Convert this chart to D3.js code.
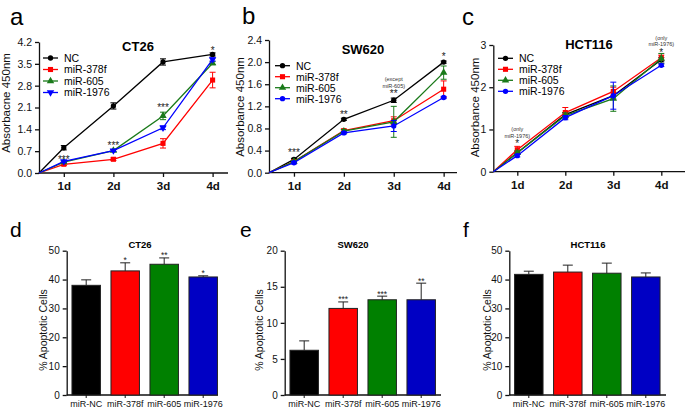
<!DOCTYPE html>
<html>
<head>
<meta charset="utf-8">
<script src="https://d3js.org/d3.v7.min.js"></script>
<style>
  body { margin: 0; background: #fff; }
  svg { font-family: "Liberation Sans", Arial, sans-serif; }
</style>
</head>
<body>
<script>
// groups, days, colours
var groups = ["NC", "miR-378f", "miR-605", "miR-1976"];
var barLabels = ["miR-NC", "miR-378f", "miR-605", "miR-1976"];
var days = [1, 2, 3, 4];
var dayLabels = ["1d", "2d", "3d", "4d"];
var lineColors = ["#000000", "#ff0000", "#1a7a1a", "#0000ff"];
var barColors = ["#000000", "#ff0000", "#008000", "#0000c4"];

// a - CT26 absorbance
var ct26NC = [0.81, 2.15, 3.56, 3.80], ct26NCsd = [0.07, 0.10, 0.10, 0.05];
var ct26R378 = [0.28, 0.44, 0.95, 2.98], ct26R378sd = [0.04, 0.04, 0.15, 0.25];
var ct26R605 = [0.35, 0.72, 1.83, 3.52], ct26R605sd = [0.03, 0.03, 0.12, 0.05];
var ct26R1976 = [0.37, 0.72, 1.45, 3.64], ct26R1976sd = [0.03, 0.03, 0.06, 0.05];
var ct26Stars = ["***", "***", "***", "*"];
var ct26StarAt = [0.51, 0.96, 2.15, 4.0];

// b - SW620 absorbance
var swNC = [0.24, 0.965, 1.31, 2.0], swNCsd = [0.02, 0.02, 0.04, 0.02];
var swR378 = [0.20, 0.76, 0.94, 1.51], swR378sd = [0.02, 0.03, 0.07, 0.15];
var swR605 = [0.20, 0.75, 0.92, 1.81], swR605sd = [0.02, 0.03, 0.28, 0.12];
var swR1976 = [0.18, 0.72, 0.845, 1.36], swR1976sd = [0.02, 0.02, 0.10, 0.02];
var swStars = ["***", "**", "**", "*"];
var swStarAt = [0.40, 1.08, 1.46, 2.13];
var swNotes = ["", "", "(except|miR-605)", ""];

// c - HCT116 absorbance
var hctNC = [0.45, 1.35, 1.80, 2.65], hctNCsd = [0.04, 0.05, 0.08, 0.05];
var hctR378 = [0.52, 1.40, 1.90, 2.70], hctR378sd = [0.08, 0.12, 0.10, 0.06];
var hctR605 = [0.45, 1.33, 1.73, 2.68], hctR605sd = [0.04, 0.06, 0.30, 0.12];
var hctR1976 = [0.38, 1.28, 1.80, 2.52], hctR1976sd = [0.03, 0.05, 0.32, 0.03];
var hctStars = ["*", "", "", "*"];
var hctStarAt = [0.71, 0, 0, 2.88];
var hctNotes = ["(only|miR-1976)", "", "", "(only|miR-1976)"];

// d-f apoptosis
var aptCT26 = [38.0, 43.0, 45.3, 40.9], aptCT26sd = [1.9, 2.8, 2.2, 0.4];
var aptCT26Stars = ["", "*", "**", "*"];
var aptSW = [6.2, 12.0, 13.2, 13.2], aptSWsd = [1.3, 0.9, 0.5, 2.3];
var aptSWStars = ["", "***", "***", "**"];
var aptHCT = [41.8, 42.6, 42.2, 40.9], aptHCTsd = [1.1, 2.4, 3.5, 1.4];
var aptHCTStars = ["", "", "", ""];

var svg = d3.select("body").append("svg")
    .attr("width", 685)
    .attr("height", 408);

function symFor(i, down) {
  if (i == 0) return { type: d3.symbolCircle, size: 22, rot: 0 };
  if (i == 1) return { type: d3.symbolSquare, size: 26, rot: 0 };
  if (i == 2) return { type: d3.symbolTriangle, size: 24, rot: 0 };
  return down ? { type: d3.symbolTriangle, size: 24, rot: 180 } : { type: d3.symbolCircle, size: 22, rot: 0 };
}

function linePanel(p) {
  var g = svg.append("g");
  var x = d3.scaleLinear().domain([0.5, 4.5]).range([p.left, p.left + 4 * p.step]);
  var y = d3.scaleLinear().domain([0, p.ymax]).range([p.bottom, p.top]);

  var ya = g.append("g")
      .attr("transform", "translate(" + p.left + ",0)")
      .call(d3.axisLeft(y).tickValues(p.yticks).tickFormat(p.fmt).tickSize(4).tickSizeOuter(0));
  ya.selectAll("text").style("font-size", "10.5px").attr("fill", "#111");

  var xa = g.append("g")
      .attr("transform", "translate(0," + p.bottom + ")")
      .call(d3.axisBottom(x).tickValues(days).tickFormat(function(d, i) { return dayLabels[i]; }).tickSize(4).tickSizeOuter(0));
  xa.select(".domain").attr("d", "M" + p.left + ",0H" + p.axisEnd);
  xa.selectAll("text").style("font-size", "11.5px").style("font-weight", "bold").attr("dy", "0.9em").attr("fill", "#111");
  g.selectAll(".domain, .tick line").attr("stroke", "#111").attr("stroke-width", 1.3);

  p.series.forEach(function(s, i) {
    var pts = [[0.5, 0]].concat(days.map(function(d, j) { return [d, s.v[j]]; }));
    g.append("path")
        .attr("fill", "none")
        .attr("stroke", lineColors[i])
        .attr("stroke-width", 1.3)
        .attr("d", d3.line().x(function(d) { return x(d[0]); }).y(function(d) { return y(d[1]); })(pts));
    days.forEach(function(d, j) {
      var cx = x(d), lo = y(s.v[j] - s.sd[j]), hi = y(s.v[j] + s.sd[j]);
      g.append("path")
          .attr("fill", "none")
          .attr("stroke", lineColors[i])
          .attr("stroke-width", 1)
          .attr("d", "M" + cx + "," + lo + "V" + hi + "M" + (cx - 3) + "," + lo + "h6M" + (cx - 3) + "," + hi + "h6");
    });
    var sy = symFor(i, p.down);
    g.selectAll(null).data(days).enter().append("path")
        .attr("fill", lineColors[i])
        .attr("d", d3.symbol().type(sy.type).size(sy.size))
        .attr("transform", function(d, j) { return "translate(" + x(d) + "," + y(s.v[j]) + ") rotate(" + sy.rot + ")"; });
  });

  // significance marks
  days.forEach(function(d, j) {
    if (p.stars[j]) {
      g.append("text")
          .attr("x", x(d)).attr("y", y(p.starAt[j]) + 5.5)
          .attr("text-anchor", "middle")
          .style("font-size", "10px")
          .attr("fill", "#222")
          .text(p.stars[j]);
    }
    if (p.notes && p.notes[j]) {
      var lines = p.notes[j].split("|");
      lines.forEach(function(t, k) {
        g.append("text")
            .attr("x", x(d)).attr("y", y(p.starAt[j]) - 4 - (lines.length - 1 - k) * 6.5)
            .attr("text-anchor", "middle")
            .style("font-size", "5.5px")
            .attr("fill", "#333")
            .text(t);
      });
    }
  });

  // legend
  groups.forEach(function(name, i) {
    var ly = p.legY + i * p.legStep;
    g.append("line")
        .attr("x1", p.legX).attr("x2", p.legX + 15)
        .attr("y1", ly).attr("y2", ly)
        .attr("stroke", lineColors[i]).attr("stroke-width", 1.3);
    var sy = symFor(i, p.down);
    g.append("path")
        .attr("fill", lineColors[i])
        .attr("d", d3.symbol().type(sy.type).size(sy.size))
        .attr("transform", "translate(" + (p.legX + 7.5) + "," + ly + ") rotate(" + sy.rot + ")");
    g.append("text")
        .attr("x", p.legX + 21).attr("y", ly + 3.8)
        .style("font-size", "10.5px")
        .text(name);
  });

  g.append("text")
      .attr("x", p.titleX).attr("y", p.titleY)
      .attr("text-anchor", "middle")
      .style("font-size", "13px").style("font-weight", "bold")
      .text(p.title);

  g.append("text")
      .attr("transform", "translate(" + p.labX + "," + p.labY + ") rotate(-90)")
      .attr("text-anchor", "middle")
      .style("font-size", "11.5px")
      .attr("fill", "#111")
      .text(p.ylabel);

  g.append("text")
      .attr("x", p.letterX).attr("y", p.letterY)
      .style("font-size", "24px")
      .text(p.letter);
}

function barPanel(p) {
  var g = svg.append("g");
  var x = d3.scaleBand().domain(barLabels).range([p.left, p.left + 156]).paddingInner(0.27).paddingOuter(0.135);
  var y = d3.scaleLinear().domain([0, p.ymax]).range([395, 250.7]);

  var ya = g.append("g")
      .attr("transform", "translate(" + p.left + ",0)")
      .call(d3.axisLeft(y).tickValues(p.yticks).tickSize(4).tickSizeOuter(0));
  ya.selectAll("text").style("font-size", "10px").attr("fill", "#111");
  ya.selectAll(".domain, .tick line").attr("stroke", "#111").attr("stroke-width", 1.3);

  g.append("line")
      .attr("x1", p.left).attr("x2", p.axisEnd)
      .attr("y1", 395).attr("y2", 395)
      .attr("stroke", "#111").attr("stroke-width", 1.3);

  barLabels.forEach(function(lab, i) {
    var bx = x(lab), bw = x.bandwidth(), cx = bx + bw / 2;
    var top = y(p.v[i]), et = y(p.v[i] + p.sd[i]);
    g.append("path")
        .attr("fill", "none").attr("stroke", "#222").attr("stroke-width", 1)
        .attr("d", "M" + cx + "," + top + "V" + et + "M" + (cx - 5) + "," + et + "h10");
    g.append("rect")
        .attr("x", bx).attr("y", top)
        .attr("width", bw).attr("height", 395 - top)
        .attr("fill", barColors[i])
        .attr("stroke", "#222").attr("stroke-width", 1);
    g.append("line")
        .attr("x1", cx).attr("x2", cx)
        .attr("y1", 395).attr("y2", 398)
        .attr("stroke", "#111").attr("stroke-width", 1);
    if (p.stars[i]) {
      g.append("text")
          .attr("x", cx).attr("y", et + 0.5)
          .attr("text-anchor", "middle")
          .style("font-size", "8.5px")
          .attr("fill", "#222")
          .text(p.stars[i]);
    }
    g.append("text")
        .attr("x", cx).attr("y", 407)
        .attr("text-anchor", "middle")
        .style("font-size", "9px")
        .attr("fill", "#111")
        .text(lab);
  });

  g.append("text")
      .attr("x", p.titleX).attr("y", 248)
      .attr("text-anchor", "middle")
      .style("font-size", "9.5px").style("font-weight", "bold")
      .text(p.title);

  g.append("text")
      .attr("transform", "translate(" + p.labX + ",330) rotate(-90)")
      .attr("text-anchor", "middle")
      .style("font-size", "10.5px")
      .attr("fill", "#111")
      .text("% Apoptotic Cells");

  g.append("text")
      .attr("x", p.letterX).attr("y", 237)
      .style("font-size", "21px")
      .text(p.letter);
}

linePanel({
  left: 39, top: 42, bottom: 173, step: 49.6, axisEnd: 228, ymax: 4.2,
  yticks: [0, 0.7, 1.4, 2.1, 2.8, 3.5, 4.2], fmt: d3.format(".1f"), down: true,
  series: [{ v: ct26NC, sd: ct26NCsd }, { v: ct26R378, sd: ct26R378sd }, { v: ct26R605, sd: ct26R605sd }, { v: ct26R1976, sd: ct26R1976sd }],
  stars: ct26Stars, starAt: ct26StarAt,
  legX: 43, legY: 58, legStep: 11.5,
  title: "CT26", titleX: 138, titleY: 51,
  ylabel: "Absorbacne 450nm", labX: 10, labY: 103,
  letter: "a", letterX: 10, letterY: 25
});

linePanel({
  left: 269, top: 40, bottom: 172.7, step: 49.9, axisEnd: 457, ymax: 2.4,
  yticks: [0, 0.4, 0.8, 1.2, 1.6, 2.0, 2.4], fmt: d3.format(".1f"), down: false,
  series: [{ v: swNC, sd: swNCsd }, { v: swR378, sd: swR378sd }, { v: swR605, sd: swR605sd }, { v: swR1976, sd: swR1976sd }],
  stars: swStars, starAt: swStarAt, notes: swNotes,
  legX: 275, legY: 65.7, legStep: 11,
  title: "SW620", titleX: 363, titleY: 54,
  ylabel: "Absorbance 450nm", labX: 243.5, labY: 107,
  letter: "b", letterX: 242, letterY: 23.5
});

linePanel({
  left: 493.3, top: 45, bottom: 171.7, step: 48, axisEnd: 685, ymax: 3,
  yticks: [0, 1, 2, 3], fmt: d3.format("d"), down: false,
  series: [{ v: hctNC, sd: hctNCsd }, { v: hctR378, sd: hctR378sd }, { v: hctR605, sd: hctR605sd }, { v: hctR1976, sd: hctR1976sd }],
  stars: hctStars, starAt: hctStarAt, notes: hctNotes,
  legX: 498, legY: 58.3, legStep: 11,
  title: "HCT116", titleX: 589, titleY: 49,
  ylabel: "Absorbance 450nm", labX: 479, labY: 107.5,
  letter: "c", letterX: 462, letterY: 25
});

barPanel({
  left: 66.7, axisEnd: 218, ymax: 50, yticks: [0, 10, 20, 30, 40, 50],
  v: aptCT26, sd: aptCT26sd, stars: aptCT26Stars,
  title: "CT26", titleX: 140, labX: 46.5, letter: "d", letterX: 10
});

barPanel({
  left: 284.7, axisEnd: 441, ymax: 20, yticks: [0, 5, 10, 15, 20],
  v: aptSW, sd: aptSWsd, stars: aptSWStars,
  title: "SW620", titleX: 353, labX: 263, letter: "e", letterX: 240
});

barPanel({
  left: 509.3, axisEnd: 666, ymax: 50, yticks: [0, 10, 20, 30, 40, 50],
  v: aptHCT, sd: aptHCTsd, stars: aptHCTStars,
  title: "HCT116", titleX: 588, labX: 491, letter: "f", letterX: 463
});
</script>
</body>
</html>
